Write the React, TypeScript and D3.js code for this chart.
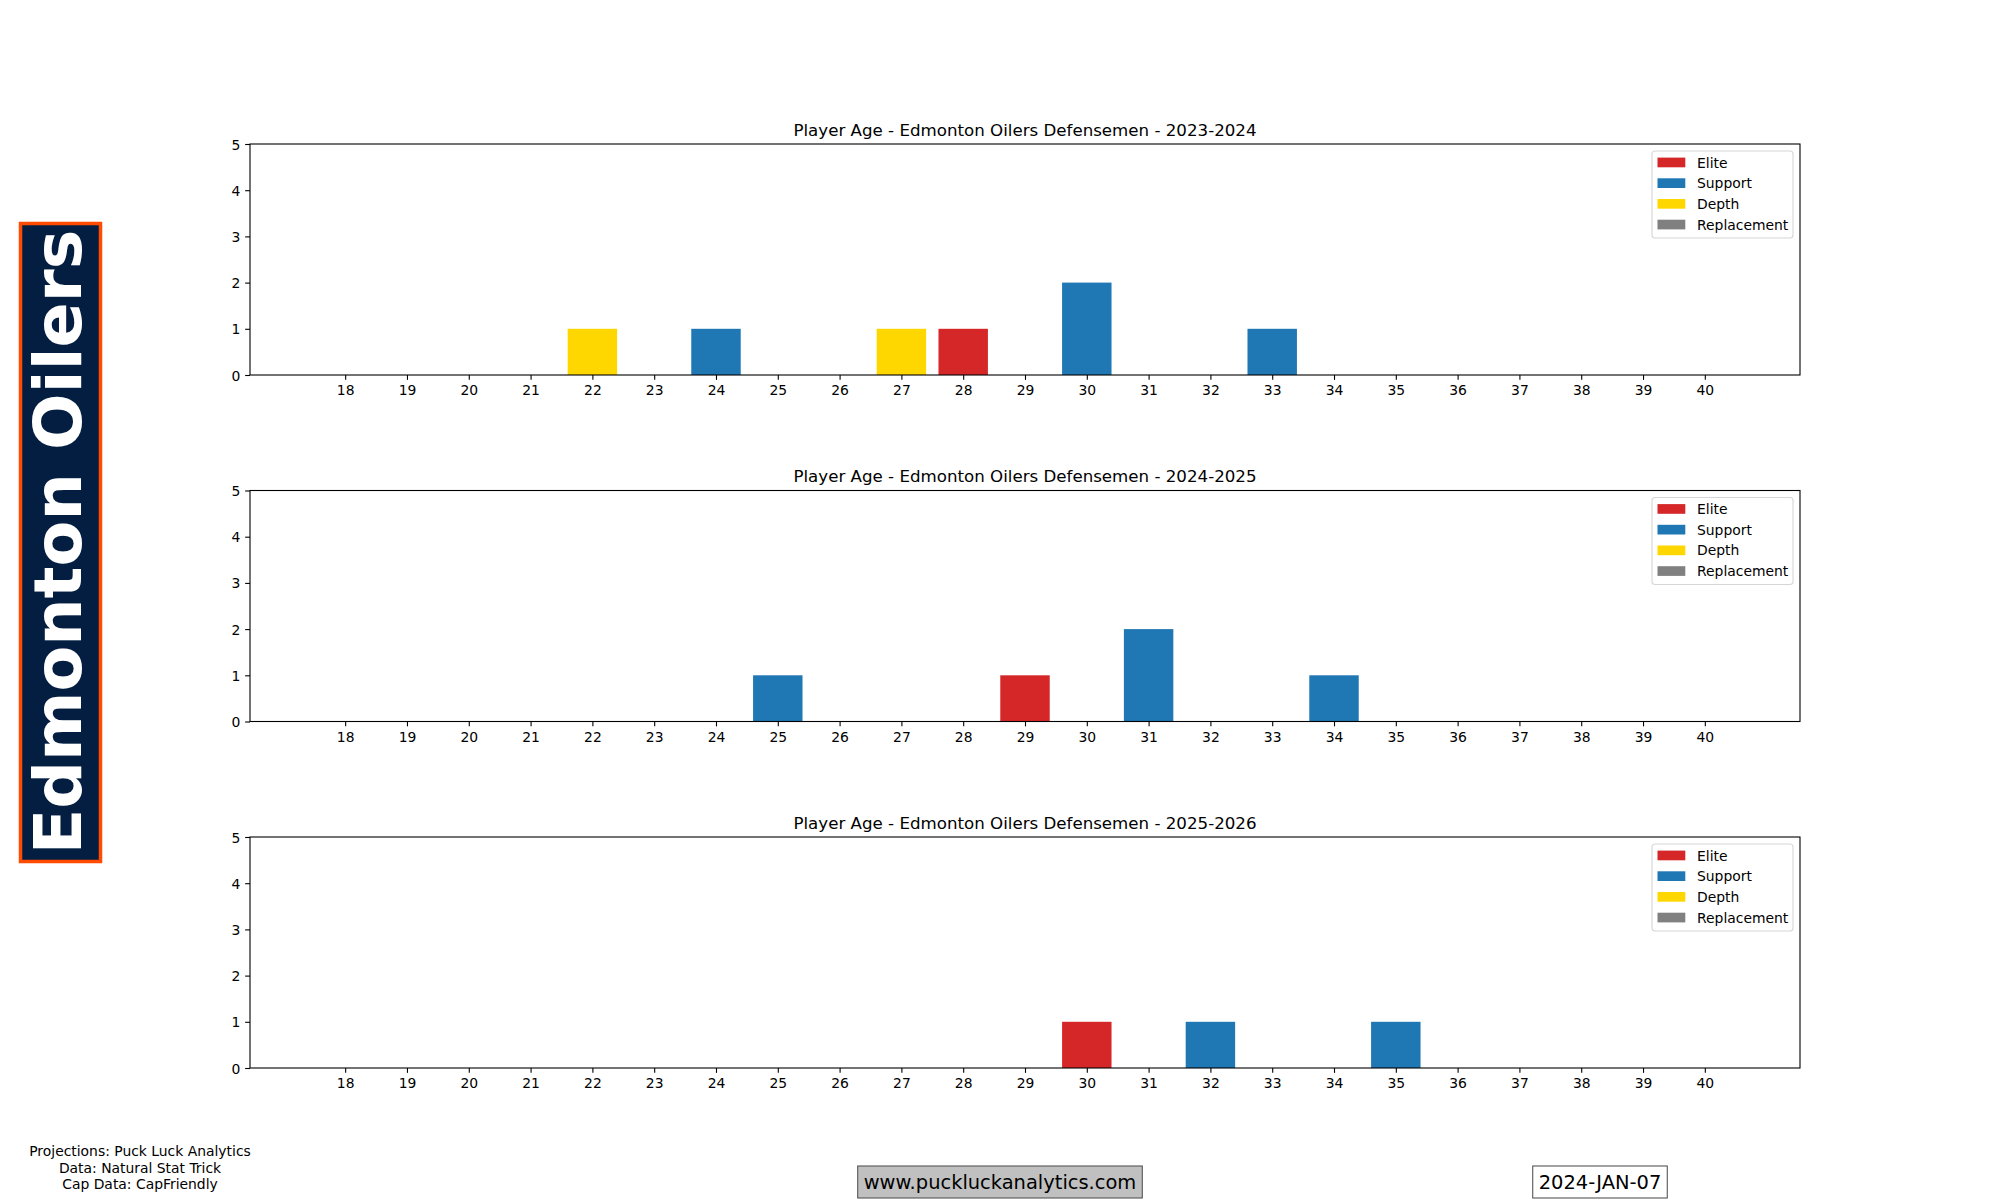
import React, { useEffect, useRef } from "react";
import * as d3 from "d3";

// ages shown on the x axis
const AGES = [18, 19, 20, 21, 22, 23, 24, 25, 26, 27, 28, 29, 30, 31, 32, 33, 34, 35, 36, 37, 38, 39, 40];
const Y_TICKS = [0, 1, 2, 3, 4, 5];

const CATEGORIES = ["Elite", "Support", "Depth", "Replacement"];
const CAT_COLORS = ["#d62728", "#1f77b4", "#ffd700", "#808080"];

const SEASONS = ["2023-2024", "2024-2025", "2025-2026"];

// counts by age (18..40) per tier
const elite2324 = [0, 0, 0, 0, 0, 0, 0, 0, 0, 0, 1, 0, 0, 0, 0, 0, 0, 0, 0, 0, 0, 0, 0];
const support2324 = [0, 0, 0, 0, 0, 0, 1, 0, 0, 0, 0, 0, 2, 0, 0, 1, 0, 0, 0, 0, 0, 0, 0];
const depth2324 = [0, 0, 0, 0, 1, 0, 0, 0, 0, 1, 0, 0, 0, 0, 0, 0, 0, 0, 0, 0, 0, 0, 0];
const repl2324 = [0, 0, 0, 0, 0, 0, 0, 0, 0, 0, 0, 0, 0, 0, 0, 0, 0, 0, 0, 0, 0, 0, 0];

const elite2425 = [0, 0, 0, 0, 0, 0, 0, 0, 0, 0, 0, 1, 0, 0, 0, 0, 0, 0, 0, 0, 0, 0, 0];
const support2425 = [0, 0, 0, 0, 0, 0, 0, 1, 0, 0, 0, 0, 0, 2, 0, 0, 1, 0, 0, 0, 0, 0, 0];
const depth2425 = [0, 0, 0, 0, 0, 0, 0, 0, 0, 0, 0, 0, 0, 0, 0, 0, 0, 0, 0, 0, 0, 0, 0];
const repl2425 = [0, 0, 0, 0, 0, 0, 0, 0, 0, 0, 0, 0, 0, 0, 0, 0, 0, 0, 0, 0, 0, 0, 0];

const elite2526 = [0, 0, 0, 0, 0, 0, 0, 0, 0, 0, 0, 0, 1, 0, 0, 0, 0, 0, 0, 0, 0, 0, 0];
const support2526 = [0, 0, 0, 0, 0, 0, 0, 0, 0, 0, 0, 0, 0, 0, 1, 0, 0, 1, 0, 0, 0, 0, 0];
const depth2526 = [0, 0, 0, 0, 0, 0, 0, 0, 0, 0, 0, 0, 0, 0, 0, 0, 0, 0, 0, 0, 0, 0, 0];
const repl2526 = [0, 0, 0, 0, 0, 0, 0, 0, 0, 0, 0, 0, 0, 0, 0, 0, 0, 0, 0, 0, 0, 0, 0];

const SEASON_DATA = [
  [elite2324, support2324, depth2324, repl2324],
  [elite2425, support2425, depth2425, repl2425],
  [elite2526, support2526, depth2526, repl2526],
];

const TEAM = "Edmonton Oilers";
const CREDITS = ["Projections: Puck Luck Analytics", "Data: Natural Stat Trick", "Cap Data: CapFriendly"];
const SITE = "www.puckluckanalytics.com";
const DATE = "2024-JAN-07";

const W = 2000;
const H = 1200;
const FONT = "DejaVu Sans";

const App: React.FC = () => {
  const svgRef = useRef<SVGSVGElement | null>(null);

  useEffect(() => {
    if (!svgRef.current) return;
    const svg = d3.select(svgRef.current);
    svg.selectAll("*").remove();

    svg.append("rect").attr("width", W).attr("height", H).attr("fill", "#fff");

    const left = 250;
    const right = 1800;
    const axH = 231;
    const tops = [144, 490.5, 837];
    const tickLen = 4.86;

    // bars are 0.8 wide, matplotlib pads the x range by 5%
    const barW = 0.8;
    const lo = AGES[0] - barW / 2;
    const hi = AGES[AGES.length - 1] + barW / 2;
    const pad = (hi - lo) * 0.05;
    const x = d3.scaleLinear().domain([lo - pad, hi + pad]).range([left, right]);

    SEASONS.forEach((season, si) => {
      const top = tops[si];
      const bottom = top + axH;
      const y = d3.scaleLinear().domain([0, 5]).range([bottom, top]);

      const g = svg.append("g");

      // stacked bars
      const rows = AGES.map((age, i) => {
        const row: any = { age };
        CATEGORIES.forEach((c, ci) => (row[c] = SEASON_DATA[si][ci][i]));
        return row;
      });
      const stacked = d3.stack().keys(CATEGORIES)(rows);
      stacked.forEach((layer, li) => {
        g.append("g")
          .selectAll("rect")
          .data(layer.filter((d) => d[1] - d[0] > 0))
          .enter()
          .append("rect")
          .attr("x", (d: any) => x(d.data.age - barW / 2))
          .attr("width", x(barW) - x(0))
          .attr("y", (d) => y(d[1]))
          .attr("height", (d) => y(d[0]) - y(d[1]))
          .attr("fill", CAT_COLORS[li]);
      });

      // x axis
      const xAxis = g
        .append("g")
        .attr("transform", `translate(0,${bottom})`)
        .call(
          d3
            .axisBottom(x)
            .tickValues(AGES)
            .tickFormat(d3.format("d"))
            .tickSize(tickLen)
            .tickSizeOuter(0)
            .tickPadding(4.86)
        );
      xAxis.select(".domain").remove();
      xAxis.selectAll("line").attr("stroke", "#000").attr("stroke-width", 1.1);
      xAxis.selectAll("text").attr("font-family", FONT).attr("font-size", 13.9).attr("fill", "#000").attr("dy", "0.76em");

      // y axis
      const yAxis = g
        .append("g")
        .attr("transform", `translate(${left},0)`)
        .call(
          d3
            .axisLeft(y)
            .tickValues(Y_TICKS)
            .tickFormat(d3.format("d"))
            .tickSize(tickLen)
            .tickSizeOuter(0)
            .tickPadding(4.86)
        );
      yAxis.select(".domain").remove();
      yAxis.selectAll("line").attr("stroke", "#000").attr("stroke-width", 1.1);
      yAxis.selectAll("text").attr("font-family", FONT).attr("font-size", 13.9).attr("fill", "#000").attr("dy", "0.36em");

      // frame
      g.append("rect")
        .attr("x", left)
        .attr("y", top)
        .attr("width", right - left)
        .attr("height", axH)
        .attr("fill", "none")
        .attr("stroke", "#000")
        .attr("stroke-width", 1.1);

      // title
      g.append("text")
        .attr("x", (left + right) / 2)
        .attr("y", top - 8.3)
        .attr("text-anchor", "middle")
        .attr("font-family", FONT)
        .attr("font-size", 16.67)
        .attr("fill", "#000")
        .text(`Player Age - ${TEAM} Defensemen - ${season}`);

      // legend
      const lg = g.append("g").attr("transform", `translate(${right - 7 - 141},${top + 7})`);
      lg.append("rect")
        .attr("width", 141)
        .attr("height", 87)
        .attr("rx", 3)
        .attr("fill", "#fff")
        .attr("fill-opacity", 0.8)
        .attr("stroke", "#d6d6d6")
        .attr("stroke-width", 1.1);
      CATEGORIES.forEach((c, ci) => {
        const cy = 11.5 + ci * 20.7;
        lg.append("rect")
          .attr("x", 5.5)
          .attr("y", cy - 4.9)
          .attr("width", 27.8)
          .attr("height", 9.7)
          .attr("fill", CAT_COLORS[ci]);
        lg.append("text")
          .attr("x", 45)
          .attr("y", cy)
          .attr("dy", "0.36em")
          .attr("font-family", FONT)
          .attr("font-size", 13.9)
          .attr("fill", "#000")
          .text(c);
      });
    });

    // team banner on the left
    svg.append("rect")
      .attr("x", 20.5)
      .attr("y", 223.5)
      .attr("width", 80)
      .attr("height", 638)
      .attr("fill", "#041e42")
      .attr("stroke", "#ff4c00")
      .attr("stroke-width", 3.5);
    svg.append("text")
      .attr("transform", `translate(81,542) rotate(-90)`)
      .attr("text-anchor", "middle")
      .attr("font-family", FONT)
      .attr("font-weight", "bold")
      .attr("font-size", 66.7)
      .attr("fill", "#fff")
      .text(TEAM);

    // credits
    svg.append("g")
      .selectAll("text")
      .data(CREDITS)
      .enter()
      .append("text")
      .attr("x", 140)
      .attr("y", (d, i) => 1156 + i * 16.5)
      .attr("text-anchor", "middle")
      .attr("font-family", FONT)
      .attr("font-size", 13.9)
      .attr("fill", "#000")
      .text((d) => d);

    // website box
    const boxes = [
      { text: SITE, cx: 1000, fill: "#c0c0c0" },
      { text: DATE, cx: 1600, fill: "#ffffff" },
    ];
    boxes.forEach((b) => {
      const t = svg
        .append("text")
        .attr("x", b.cx)
        .attr("y", 1182)
        .attr("dy", "0.36em")
        .attr("text-anchor", "middle")
        .attr("font-family", FONT)
        .attr("font-size", 19.44)
        .attr("fill", "#000")
        .text(b.text);
      const w = (t.node() as SVGTextElement).getComputedTextLength();
      svg.insert("rect", () => t.node() as any)
        .attr("x", b.cx - w / 2 - 6)
        .attr("y", 1166)
        .attr("width", w + 12)
        .attr("height", 32)
        .attr("fill", b.fill)
        .attr("stroke", "#555")
        .attr("stroke-width", 1.1);
    });
  }, []);

  return (
    <svg
      ref={svgRef}
      width={W}
      height={H}
      style={{ position: "fixed", left: 0, top: 0, display: "block" }}
    />
  );
};

export default App;
